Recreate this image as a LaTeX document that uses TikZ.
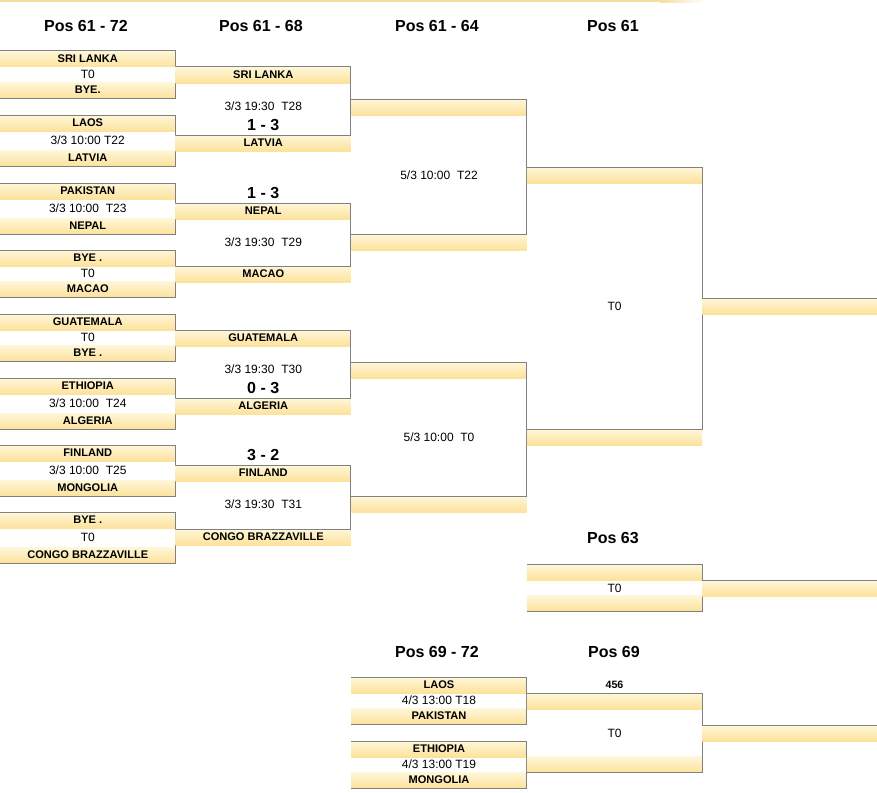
\documentclass[tikz,border=0pt]{standalone}
\usepackage{fontspec}
\setmainfont{Liberation Sans}
\usepackage{xcolor}
\usepackage{tikz}
\definecolor{bandtop}{RGB}{255,247,218}
\definecolor{bandgold}{RGB}{252,226,155}
\definecolor{rulegrey}{RGB}{128,128,128}
\definecolor{stripgold}{RGB}{245,222,160}

\begin{document}
\begin{tikzpicture}[x=0.75pt,y=-0.75pt,
    band/.style={minimum width=131.6pt,minimum height=12pt,inner sep=0pt,outer sep=0pt,
        top color=bandtop,bottom color=bandgold,font=\bfseries\fontsize{8.3}{9}\selectfont},
    info/.style={inner sep=0pt,font=\fontsize{9}{10}\selectfont},
    score/.style={inner sep=0pt,font=\bfseries\fontsize{12}{14}\selectfont},
    boxline/.style={draw=rulegrey,line width=0.75pt}]
    \useasboundingbox (0,0) rectangle (877,792);

    % Top strip
    \fill[stripgold] (0,0) rectangle (660,2.5);
    \shade[left color=stripgold,right color=white] (660,0) rectangle (705,2.5);

    % Headers
    \node[score] (h1) at (86,26) {Pos 61 - 72};
    \node[score] (h2) at (261,26) {Pos 61 - 68};
    \node[score] (h3) at (437,26) {Pos 61 - 64};
    \node[score] (h4) at (613,26) {Pos 61};
    \node[score] (h5) at (613,538) {Pos 63};
    \node[score] (h6) at (437,652) {Pos 69 - 72};
    \node[score] (h7) at (614,652) {Pos 69};

    % First round
    \foreach \i/\yt/\yb/\na/\nm/\nb in {
        1/51/98/SRI LANKA/T0/BYE.,
        2/115/166/LAOS/{3/3 10:00 T22}/LATVIA,
        3/183/234/PAKISTAN/{3/3 10:00~ T23}/NEPAL,
        4/250/297/BYE ./T0/MACAO,
        5/314/361/GUATEMALA/T0/BYE .,
        6/378/429/ETHIOPIA/{3/3 10:00~ T24}/ALGERIA,
        7/445/496/FINLAND/{3/3 10:00~ T25}/MONGOLIA,
        8/512/563/BYE ./T0/CONGO BRAZZAVILLE} {
        \node[band] (r1a\i) at (87.75,\yt+8) {\na};
        \node[band] (r1b\i) at (87.75,\yb-8) {\nb};
        \node[info] (r1m\i) at (87.75,{(\yt+\yb)/2}) {\nm};
        \draw[boxline] (r1a\i.north west) -- (r1a\i.north east) -- (r1b\i.south east) -- (r1b\i.south west);
    }

    % Second round
    \foreach \j/\yp/\yq/\na/\nb/\ti/\yi/\sc/\ys in {
        1/67/135/SRI LANKA/LATVIA/{3/3 19:30~ T28}/106/1 - 3/125,
        2/203/266/NEPAL/MACAO/{3/3 19:30~ T29}/242/1 - 3/193,
        3/330/398/GUATEMALA/ALGERIA/{3/3 19:30~ T30}/369/0 - 3/388,
        4/465/529/FINLAND/CONGO BRAZZAVILLE/{3/3 19:30~ T31}/504/3 - 2/455} {
        \node[band] (r2a\j) at (263.25,\yp+8) {\na};
        \node[band] (r2b\j) at (263.25,\yq+8) {\nb};
        \node[info] (r2t\j) at (263.25,\yi) {\ti};
        \node[score] (r2s\j) at (263.25,\ys) {\sc};
        \draw[boxline] (r2a\j.north west) -- (r2a\j.north east) -- (r2b\j.north east) -- (r2b\j.north west);
    }

    % Third round
    \node[band] (r3a1) at (439,107) {};
    \node[band] (r3b1) at (439,242) {};
    \node[info] (r3t1) at (439,175) {5/3 10:00~ T22};
    \draw[boxline] (r3a1.north west) -- (r3a1.north east) -- (r3b1.north east) -- (r3b1.north west);
    \node[band] (r3a2) at (439,370) {};
    \node[band] (r3b2) at (439,504) {};
    \node[info] (r3t2) at (439,437) {5/3 10:00~ T0};
    \draw[boxline] (r3a2.north west) -- (r3a2.north east) -- (r3b2.north east) -- (r3b2.north west);

    % Final Pos 61
    \node[band] (r4a) at (614.5,175) {};
    \node[band] (r4b) at (614.5,437) {};
    \node[info] (r4t) at (614.5,306) {T0};
    \draw[boxline] (r4a.north west) -- (r4a.north east) -- (r4b.north east) -- (r4b.north west);
    \node[band] (r5) at (790,306) {};
    \draw[boxline] (r5.north west) -- (r5.north east);

    % Pos 63
    \node[band] (p63a) at (614.5,572) {};
    \node[band] (p63b) at (614.5,603) {};
    \node[info] (p63t) at (614.5,588) {T0};
    \draw[boxline] (p63a.north west) -- (p63a.north east) -- (p63b.south east) -- (p63b.south west);
    \node[band] (p63w) at (790,588) {};
    \draw[boxline] (p63w.north west) -- (p63w.north east);

    % Pos 69 - 72
    \foreach \k/\yt/\yb/\na/\nm/\nb in {
        1/677/724/LAOS/{4/3 13:00 T18}/PAKISTAN,
        2/741/788/ETHIOPIA/{4/3 13:00 T19}/MONGOLIA} {
        \node[band] (q1a\k) at (439,\yt+8) {\na};
        \node[band] (q1b\k) at (439,\yb-8) {\nb};
        \node[info] (q1m\k) at (439,{(\yt+\yb)/2}) {\nm};
        \draw[boxline] (q1a\k.north west) -- (q1a\k.north east) -- (q1b\k.south east) -- (q1b\k.south west);
    }

    % Pos 69
    \node[band] (p69a) at (614.5,701) {};
    \node[band] (p69b) at (614.5,764.5) {};
    \node[info] (p69t) at (614.5,733) {T0};
    \node[inner sep=0pt,font=\bfseries\fontsize{8}{9}\selectfont] (p69n) at (614.5,685) {456};
    \draw[boxline] (p69a.north west) -- (p69a.north east) -- (p69b.south east) -- (p69b.south west);
    \node[band] (p69w) at (790,733) {};
    \draw[boxline] (p69w.north west) -- (p69w.north east);
\end{tikzpicture}
\end{document}
